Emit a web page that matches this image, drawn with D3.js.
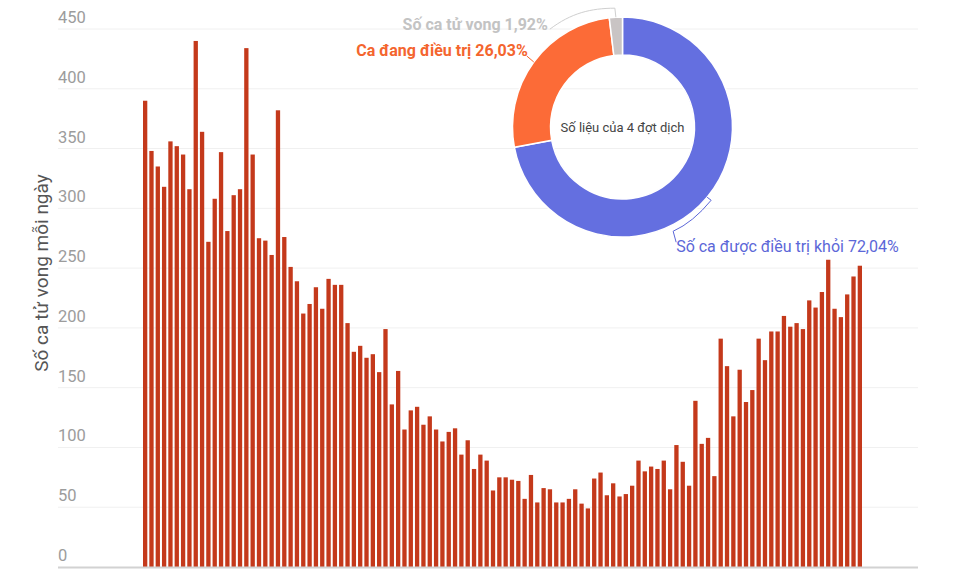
<!DOCTYPE html>
<html>
<head>
<meta charset="utf-8">
<script src="https://cdn.jsdelivr.net/npm/d3@7"></script>
<style>
  html, body { margin: 0; padding: 0; background: #fff; }
  svg { display: block; font-family: Roboto, "Noto Sans", sans-serif; }
</style>
</head>
<body>
<svg id="chart" width="960" height="576"></svg>
<script>
// ---- data ----
const dailyDeaths = [
  390, 348, 335, 318, 356, 352, 345, 316, 440, 364,
  272, 308, 347, 281, 311, 316, 434, 345, 275, 273,
  261, 382, 276, 251, 239, 212, 220, 234, 216, 241,
  236, 236, 204, 180, 185, 175, 178, 163, 199, 136,
  164, 115, 131, 134, 119, 126, 115, 105, 113, 116,
  94, 106, 82, 94, 89, 64, 75, 75, 73, 72,
  57, 77, 54, 66, 65, 54, 54, 57, 65, 53,
  49, 74, 79, 60, 70, 59, 61, 68, 89, 80,
  84, 82, 89, 65, 102, 88, 68, 139, 103, 108,
  76, 191, 168, 126, 165, 138, 148, 191, 173, 197,
  197, 210, 201, 204, 199, 223, 217, 230, 257, 216,
  209, 228, 243, 252
];
const dayIndex = dailyDeaths.map((d, i) => i);
const yTicks = [0, 50, 100, 150, 200, 250, 300, 350, 400, 450];
const yTitle = "Số ca tử vong mỗi ngày";

const pieNames = ["Số ca được điều trị khỏi", "Ca đang điều trị", "Số ca tử vong"];
const pieValues = [72.04, 26.03, 1.92];
const pieLabels = ["72,04%", "26,03%", "1,92%"];
const pieCenterText = "Số liệu của 4 đợt dịch";

// ---- styles ----
const barColor = "#c4391b";
const sliceColors = ["#646fe0", "#fc6b37", "#c9c4c4"];
const labelColors = ["#5c67d8", "#f4652e", "#c3c3c3"];

const svg = d3.select("#chart");

// ---- scales ----
const x = d3.scaleBand().domain(dayIndex).range([143, 862]).paddingInner(0.32).paddingOuter(0);
const y = d3.scaleLinear().domain([0, 450]).range([567, 29]);

// gridlines
svg.append("g").selectAll("line").data(yTicks.filter(t => t > 0)).join("line")
  .attr("x1", 58).attr("x2", 918)
  .attr("y1", d => y(d)).attr("y2", d => y(d))
  .attr("stroke", "#f0f0f0").attr("stroke-width", 1);

// tick labels
svg.append("g").selectAll("text").data(yTicks).join("text")
  .attr("x", 58).attr("y", d => y(d) - 6)
  .attr("font-size", 16.5).attr("fill", "#9c9c9c")
  .text(d => d);

// y title
svg.append("text")
  .attr("transform", "translate(48,273) rotate(-90)")
  .attr("text-anchor", "middle")
  .attr("font-size", 19).attr("fill", "#555")
  .text(yTitle);

// bars
svg.append("g").selectAll("rect").data(dailyDeaths).join("rect")
  .attr("x", (d, i) => x(i))
  .attr("width", x.bandwidth())
  .attr("y", d => y(d))
  .attr("height", d => y(0) - y(d))
  .attr("fill", barColor);

// baseline
svg.append("line")
  .attr("x1", 58).attr("x2", 918)
  .attr("y1", y(0) + 0.5).attr("y2", y(0) + 0.5)
  .attr("stroke", "#d2d2d2").attr("stroke-width", 2);

// ---- donut ----
const cx = 622.5, cy = 127, rOut = 110, rIn = 72;
const pie = d3.pie().sort(null).value(d => d).startAngle(0).endAngle(2 * Math.PI);
const arcs = pie(pieValues);
const arc = d3.arc().innerRadius(rIn).outerRadius(rOut);
const g = svg.append("g").attr("transform", `translate(${cx},${cy})`);
g.selectAll("path").data(arcs).join("path")
  .attr("d", arc)
  .attr("fill", (d, i) => sliceColors[i])
  .attr("stroke", "#fff").attr("stroke-width", 1.5);

g.append("text")
  .attr("text-anchor", "middle").attr("dy", "0.35em")
  .attr("font-size", 13).attr("fill", "#444")
  .text(pieCenterText);

function outerPoint(a, r) {
  const mid = (a.startAngle + a.endAngle) / 2;
  return [cx + r * Math.sin(mid), cy - r * Math.cos(mid)];
}

// leader lines
const pBlue = outerPoint(arcs[0], rOut);
const pOrange = outerPoint(arcs[1], rOut);
const pGray = outerPoint(arcs[2], rOut);

svg.append("path")
  .attr("d", `M${pBlue[0]},${pBlue[1]} L${pBlue[0] + 4},${pBlue[1] + 3} Q${pBlue[0] - 14},${pBlue[1] + 25} ${pBlue[0] - 34},${pBlue[1] + 34} L${pBlue[0] - 31},${pBlue[1] + 45}`)
  .attr("fill", "none").attr("stroke", labelColors[0]).attr("stroke-width", 1);

svg.append("path")
  .attr("d", `M${pOrange[0]},${pOrange[1]} L${pOrange[0] - 7},${pOrange[1] - 6}`)
  .attr("fill", "none").attr("stroke", labelColors[1]).attr("stroke-width", 1);

svg.append("path")
  .attr("d", `M${pGray[0]},${pGray[1]} L${pGray[0] - 1},${pGray[1] - 9} C${pGray[0] - 25},${pGray[1] - 9} ${pGray[0] - 45},${pGray[1] - 4} ${pGray[0] - 66},${pGray[1] + 12}`)
  .attr("fill", "none").attr("stroke", "#cfcfcf").attr("stroke-width", 1);

// labels
svg.append("text")
  .attr("x", pBlue[0] - 31).attr("y", pBlue[1] + 55)
  .attr("font-size", 16).attr("fill", labelColors[0]).attr("font-weight", 400)
  .text(pieNames[0] + " " + pieLabels[0]);

svg.append("text")
  .attr("x", pOrange[0] - 6).attr("y", pOrange[1] - 6)
  .attr("text-anchor", "end")
  .attr("font-size", 16).attr("fill", labelColors[1]).attr("font-weight", 700)
  .text(pieNames[1] + " " + pieLabels[1]);

svg.append("text")
  .attr("x", pGray[0] - 68).attr("y", pGray[1] + 13)
  .attr("text-anchor", "end")
  .attr("font-size", 16).attr("fill", labelColors[2]).attr("font-weight", 700)
  .text(pieNames[2] + " " + pieLabels[2]);
</script>
</body>
</html>
